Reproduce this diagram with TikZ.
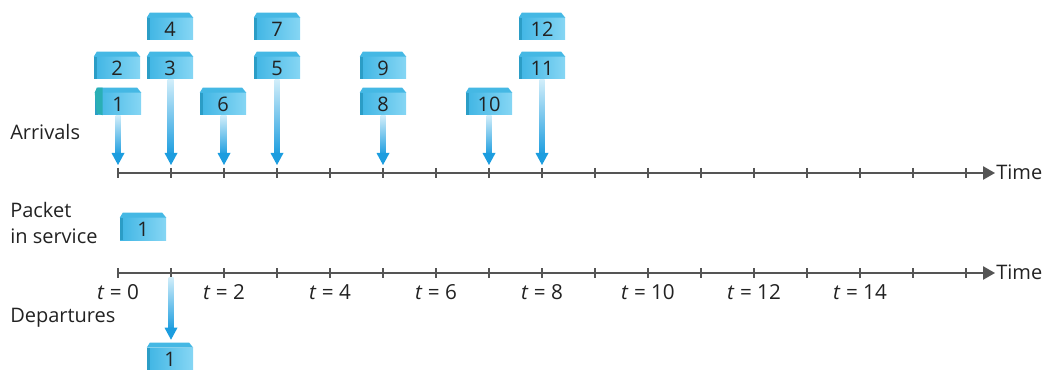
\documentclass[tikz,border=0pt]{standalone}
\usepackage{fontspec}
\setmainfont{Open Sans}
\usetikzlibrary{calc,arrows.meta}
\definecolor{pktA}{HTML}{3FB5E4}
\definecolor{pktB}{HTML}{86D6F4}
\definecolor{pktTop}{HTML}{45B8E4}
\definecolor{pktSide}{HTML}{2B9DC6}
\definecolor{pktTeal}{HTML}{2AAFB5}
\definecolor{arrB}{HTML}{1C9DDF}
\definecolor{arrT}{HTML}{D2EEFA}
\definecolor{axisc}{HTML}{555555}
\definecolor{txtc}{HTML}{222222}
\tikzset{
  pkt/.style={minimum width=34.5pt, minimum height=16.5pt, inner sep=0pt,
    left color=pktA, right color=pktB, text=txtc,
    font=\fontsize{15pt}{15pt}\selectfont},
  lbl/.style={anchor=west, inner sep=0pt, text=txtc, font=\fontsize{15pt}{17pt}\selectfont},
  tlbl/.style={inner sep=0pt, text=txtc, font=\fontsize{15.5pt}{17pt}\selectfont},
  axisline/.style={draw=axisc, line width=1.1pt, -{Triangle[length=9pt,width=10pt]}},
  tickline/.style={draw=axisc, line width=0.9pt},
}
\newcommand\pkt[4]{%
  \node[pkt] (#1) at (#2,#3) {#4};
  \fill[pktTop] (#1.north west) -- ++(3,-5) -- ($(#1.north east)+(-4,-5)$) -- (#1.north east) -- cycle;
  \fill[pktSide] (#1.north west) rectangle ($(#1.south west)+(3,0)$);
}
\newcommand\parr[2]{%
  \shade[top color=arrT, bottom color=arrB] ($(#1)+(-2.5,0)$) rectangle ($(#2)+(2.5,-10)$);
  \fill[arrB] ($(#2)+(-6.5,-12)$) -- ($(#2)+(6.5,-12)$) -- (#2) -- cycle;
}
\begin{document}
\begin{tikzpicture}[x=0.75pt,y=-0.75pt]
\useasboundingbox (0,0) rectangle (1048,370);
% axes
\foreach \k in {0,...,16} {
  \coordinate (ua\k) at ({118+53*\k},173);
  \coordinate (la\k) at ({118+53*\k},273);
  \draw[tickline] ($(ua\k)+(0,-5)$) -- ($(ua\k)+(0,5)$);
  \draw[tickline] ($(la\k)+(0,-5)$) -- ($(la\k)+(0,5)$);
}
\coordinate (uend) at (995,173);
\coordinate (lend) at (995,273);
\draw[axisline] (ua0) -- (uend);
\draw[axisline] (la0) -- (lend);
\node[lbl] (ut) at (996,172) {Time};
\node[lbl] (lt) at (996,272) {Time};
% time labels
\foreach \k/\v in {0/0,2/2,4/4,6/6,8/8,10/10,12/12,14/14} {
  \node[tlbl] (tl\k) at ($(la\k)+(0,19)$) {\textit{t} = \v};
}
% row labels
\node[lbl] (arr) at (10,132) {Arrivals};
\node[lbl] (pk) at (10,210) {Packet};
\node[lbl] (ins) at (10,236) {in service};
\node[lbl] (dep) at (10,318) {Departures};
% packets
\pkt{p4}{170}{29}{4}
\pkt{p7}{277}{29}{7}
\pkt{p12}{542}{29}{12}
\pkt{p2}{117}{68}{2}
\pkt{p3}{170}{68}{3}
\pkt{p5}{277}{68}{5}
\pkt{p9}{383}{68}{9}
\pkt{p11}{542}{68}{11}
\pkt{p1}{118}{104}{1}
\fill[pktTeal] (p1.north west) -- ++(2,-5) -- ++(6,0) -- ($(p1.north west)+(8,0)$) -- ($(p1.south west)+(8,0)$) -- ($(p1.south west)+(2,-2)$) -- cycle;
\pkt{p6}{223}{104}{6}
\pkt{p8}{383}{104}{8}
\pkt{p10}{489}{104}{10}
% service and departure
\pkt{s1}{143}{229}{1}
\pkt{d1}{170}{359}{1}
% arrows
\coordinate (t1) at ($(ua0)+(0,-8)$);
\coordinate (t3) at ($(ua1)+(0,-8)$);
\coordinate (t6) at ($(ua2)+(0,-8)$);
\coordinate (t5) at ($(ua3)+(0,-8)$);
\coordinate (t8) at ($(ua5)+(0,-8)$);
\coordinate (t10) at ($(ua7)+(0,-8)$);
\coordinate (t11) at ($(ua8)+(0,-8)$);
\parr{p1.south}{t1}
\parr{p3.south}{t3}
\parr{p6.south}{t6}
\parr{p5.south}{t5}
\parr{p8.south}{t8}
\parr{p10.south}{t10}
\parr{p11.south}{t11}
\coordinate (ds) at ($(la1)+(0,4)$);
\coordinate (dt) at ($(d1.north)+(1,-8)$);
\parr{ds}{dt}
\end{tikzpicture}
\end{document}
